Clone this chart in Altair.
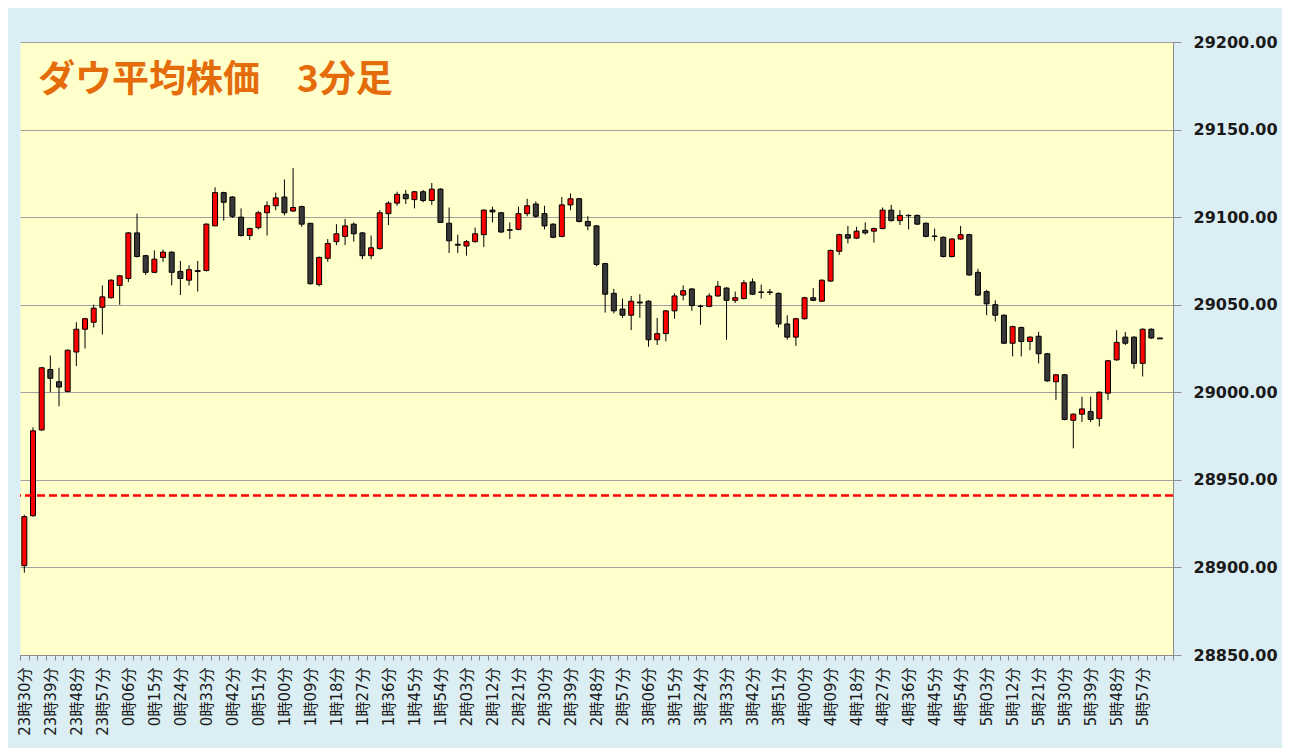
import json
import altair as alt
import pandas as pd

# ---- categories: 3-minute bars from 23:30 ----
times = []
for k in range(132):
    m = (23 * 60 + 30 + 3 * k) % 1440
    times.append(f"{m // 60}時{m % 60:02d}分")
n_slots = 133  # one empty slot after the last bar
tick_labels = times[::3]  # 23時30分 ... 5時57分

opens = [28901, 28929.5, 28978.5, 29013, 29006, 29000.5, 29023, 29036, 29040, 29048.5,
         29054, 29061, 29065, 29091, 29078, 29068.5, 29077, 29080, 29069, 29064,
         29069, 29069.5, 29095, 29114, 29111.5, 29100, 29089.5, 29094, 29102.5, 29106.5,
         29111.5, 29103.5, 29106, 29096.5, 29061.5, 29076.5, 29086, 29089, 29096, 29091,
         29078, 29082, 29102, 29108, 29113, 29110, 29114.5, 29109.5, 29116, 29096.5,
         29084.5, 29083.5, 29086, 29090, 29104, 29102.5, 29092.5, 29093, 29102, 29107.5,
         29102, 29096, 29089, 29107, 29110.5, 29097.5, 29095, 29073.5, 29056.5, 29047.5,
         29044, 29051.5, 29052, 29030, 29033.5, 29046.5, 29055.5, 29059, 29049, 29049,
         29055, 29059.5, 29052.5, 29053.5, 29063, 29057, 29057, 29056.5, 29039, 29031.5,
         29042, 29054, 29052, 29063.5, 29080.5, 29090, 29088, 29092.5, 29092, 29093.5,
         29104, 29098, 29101, 29101, 29096.5, 29089, 29088.5, 29077.5, 29087.5, 29090,
         29068.5, 29057.5, 29050, 29044, 29028, 29037, 29029, 29032, 29022, 29006,
         29010, 28984, 28987.5, 28989, 28985, 28999.5, 29018.5, 29031.5, 29031.5, 29016.5,
         29036, 29031]
highs = [28930, 28980, 29014.5, 29021, 29014, 29024.5, 29040, 29042.5, 29050, 29061,
         29064.5, 29067, 29091.5, 29102, 29078.5, 29081, 29081.5, 29080.5, 29075, 29072.5,
         29075, 29096.5, 29117, 29114.5, 29112, 29105, 29094, 29103.5, 29109, 29114,
         29121.5, 29128, 29106.5, 29096.5, 29077.5, 29087.5, 29096, 29099, 29097, 29091.5,
         29089.5, 29104, 29109, 29114.5, 29115.5, 29115, 29115.5, 29119.5, 29116.5, 29105.5,
         29090, 29087, 29094, 29104.5, 29106, 29103, 29097, 29106, 29110.5, 29109,
         29106.5, 29096.5, 29111.5, 29113.5, 29111, 29100.5, 29095.5, 29074, 29059, 29053.5,
         29055, 29056, 29052.5, 29042.5, 29047, 29056.5, 29061, 29059.5, 29050, 29056.5,
         29063.5, 29060, 29057.5, 29064, 29065, 29061.5, 29059, 29057, 29044, 29042.5,
         29054.5, 29059.5, 29064.5, 29081.5, 29090.5, 29095, 29094.5, 29097, 29094, 29105.5,
         29107, 29104, 29101.7, 29101.5, 29097, 29093.5, 29089, 29088, 29095, 29090.5,
         29070.5, 29058.5, 29052.5, 29044.5, 29038, 29037.5, 29032, 29034.5, 29022.5, 29010.5,
         29010.5, 28988, 28997.5, 28997.5, 29000.5, 29018.5, 29035.5, 29034.5, 29032, 29036.5,
         29036.5, 29031]
lows = [28897, 28929, 28978, 29000, 28992, 29000, 29015, 29025, 29037, 29033,
        29053.5, 29050, 29063, 29077, 29067, 29068, 29074.5, 29061, 29055.5, 29061,
        29057.5, 29069, 29095, 29098, 29099.5, 29089, 29087, 29093, 29089.5, 29104,
        29101, 29103, 29094.5, 29061.5, 29060.5, 29074.5, 29084, 29084, 29086, 29076,
        29076, 29081.5, 29095.5, 29106.5, 29107.5, 29105, 29108.5, 29107, 29097, 29079.5,
        29079.5, 29078, 29085.5, 29083, 29097, 29091, 29087.5, 29092.5, 29100.5, 29099.5,
        29093, 29088, 29088.5, 29104, 29097, 29092.5, 29072, 29045.5, 29045, 29042.5,
        29035.5, 29042.5, 29026, 29027, 29029, 29042, 29052.5, 29046.5, 29038.5, 29048.5,
        29054.5, 29030, 29051, 29053, 29055.5, 29053.5, 29055.5, 29037, 29030, 29026.5,
        29041.5, 29052, 29051.5, 29063, 29078.5, 29085, 29087.5, 29090, 29085.5, 29093,
        29097.5, 29095.5, 29093, 29095.5, 29088.5, 29086.5, 29077, 29077, 29087, 29066.5,
        29055, 29044, 29040.5, 29027.5, 29020.5, 29020.5, 29024, 29016.5, 29006, 28995.5,
        28984, 28968, 28983, 28983, 28980.5, 28995.5, 29018, 29027, 29013.5, 29009,
        29030.5, 29030.5]
closes = [28929, 28978, 29014, 29008, 29003, 29024, 29036, 29042, 29048, 29054.5,
          29064, 29066.5, 29091, 29077.5, 29068.5, 29076, 29080, 29068.5, 29065, 29070,
          29069.5, 29096, 29114, 29108.5, 29100.5, 29089.5, 29093.5, 29102.5, 29106.5, 29111,
          29102.5, 29105.5, 29096, 29062, 29077, 29085, 29090.5, 29095, 29090.5, 29078,
          29082.5, 29102.5, 29108, 29113, 29110.5, 29114.5, 29109.5, 29116, 29097, 29086.5,
          29084, 29086, 29090.5, 29104, 29103, 29091.5, 29092.8, 29102, 29106.5, 29100.5,
          29095, 29088.5, 29107, 29110.5, 29097.5, 29095, 29073, 29056, 29046.5, 29044,
          29052, 29051, 29030, 29033.5, 29046.5, 29055, 29058, 29049.5, 29049.2, 29055,
          29060.5, 29052.5, 29054, 29062.5, 29056, 29057.3, 29057.3, 29039, 29031.5, 29042,
          29054, 29052.5, 29064, 29081, 29090, 29088, 29092, 29091, 29093.5, 29104,
          29098, 29101, 29100.8, 29096, 29089, 29089.2, 29077.5, 29087.5, 29090, 29067,
          29055.5, 29050.5, 29044, 29028, 29037.5, 29029, 29031.5, 29022, 29006.5, 29010,
          28984.5, 28987.5, 28990.5, 28984.5, 29000, 29018, 29028.5, 29028, 29016.5, 29036,
          29031, 29030.5]

prev_close = 28941
y_ticks = [28850, 28900, 28950, 29000, 29050, 29100, 29150, 29200]
title_text = "ダウ平均株価　3分足"

df = pd.DataFrame({
    "i": list(range(len(times))),
    "time": times,
    "open": opens,
    "high": highs,
    "low": lows,
    "close": closes,
})

label_expr = json.dumps(tick_labels, ensure_ascii=False) + "[datum.value / 3] || ''"

gray = "#8c8c8c"
x_enc = alt.X(
    "i:O",
    scale=alt.Scale(domain=list(range(n_slots)), paddingInner=0, paddingOuter=0),
    axis=alt.Axis(
        title=None,
        labelAngle=270,
        labelExpr=label_expr,
        labelFont="DejaVu Sans, Noto Sans CJK JP",
        labelFontSize=15,
        labelColor="#1a1a1a",
        labelPadding=7,
        labelOverlap=False,
        tickBand="extent",
        tickSize=5,
        tickColor=gray,
        domainColor=gray,
        grid=False,
    ),
)

y_scale = alt.Scale(domain=[28850, 29200], nice=False, zero=False)
y_axis = alt.Axis(
    title=None,
    orient="right",
    values=y_ticks,
    format=".2f",
    labelFont="DejaVu Sans",
    labelFontSize=16,
    labelFontWeight="bold",
    labelColor="#1a1a1a",
    labelPadding=12,
    tickSize=8,
    tickColor=gray,
    domainColor=gray,
    grid=True,
    gridColor="#a0a0a0",
    gridWidth=1,
)

base = alt.Chart(df).encode(x=x_enc)

wick = base.mark_rule(color="black", strokeWidth=1).encode(
    y=alt.Y("low:Q", scale=y_scale, axis=y_axis),
    y2="high:Q",
)

body = base.mark_bar(size=5, stroke="black", strokeWidth=1).encode(
    y=alt.Y("open:Q", scale=y_scale, axis=y_axis),
    y2="close:Q",
    color=alt.condition("datum.close >= datum.open", alt.value("#ff0000"), alt.value("#383838")),
)

ref_line = alt.Chart(pd.DataFrame({"v": [prev_close]})).mark_rule(
    color="#ff0000", strokeWidth=2.5, strokeDash=[8, 4]
).encode(y=alt.Y("v:Q", scale=y_scale, axis=y_axis))

title = alt.Chart(pd.DataFrame({"t": [title_text]})).mark_text(
    align="left",
    baseline="alphabetic",
    font="Noto Sans CJK JP",
    fontSize=37,
    fontWeight="bold",
    color="#e46c0a",
).encode(x=alt.value(18), y=alt.value(50), text="t:N")

chart = alt.layer(wick, body, ref_line, title).properties(
    width=1153,
    height=613,
    padding={"left": 12, "top": 34, "right": 109, "bottom": 93},
    autosize=alt.AutoSizeParams(type="none"),
    background="#daeef3",
).configure_view(fill="#ffffcc", stroke="transparent")

chart.save("out.html", embed_options={"renderer": "svg", "actions": False})
